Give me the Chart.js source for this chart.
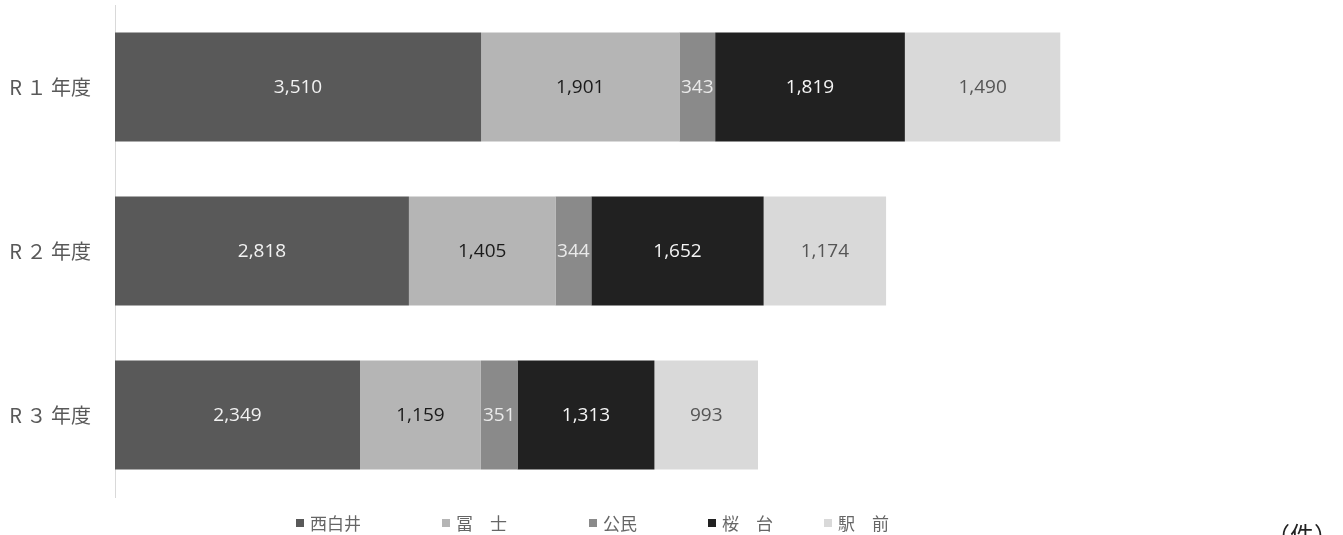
<!DOCTYPE html>
<html>
<head>
<meta charset="utf-8">
<script src="https://cdn.jsdelivr.net/npm/chart.js@4"></script>
<style>
  html, body { margin: 0; padding: 0; background: #fff; overflow: hidden; }
  .wrap { position: relative; width: 1343px; height: 535px; }
  #legend { position: absolute; top: 510px; left: 0; width: 1343px; height: 24px;
    font-family: "Noto Sans CJK JP", sans-serif; font-size: 17px; color: #666; }
  #legend span.item { position: absolute; top: 0; white-space: pre; }
  #legend i { display: inline-block; width: 8px; height: 8px; margin-right: 6px; vertical-align: 3px; }
  #unit { position: absolute; left: 1266px; top: 516px; font-family: "Noto Sans CJK JP", sans-serif;
    font-size: 24px; color: #222; white-space: pre; }
</style>
</head>
<body>
<div class="wrap">
  <canvas id="chart" width="1343" height="535"></canvas>
  <div id="legend"></div>
  <div id="unit">（件）</div>
</div>
<script>
const categories = ["R １ 年度", "R ２ 年度", "R ３ 年度"];
const seriesNames = ["西白井", "冨　士", "公民", "桜　台", "駅　前"];
const nishishiroi = [3510, 2818, 2349];
const fuji = [1901, 1405, 1159];
const koumin = [343, 344, 351];
const sakuradai = [1819, 1652, 1313];
const ekimae = [1490, 1174, 993];

const barColors = ["#595959", "#b5b5b5", "#8a8a8a", "#212121", "#d9d9d9"];
const labelColors = ["#f2f2f2", "#1a1a1a", "#eaeaea", "#f5f5f5", "#555555"];
const legendLeft = [296, 442, 589, 708, 824];

const seriesValues = [nishishiroi, fuji, koumin, sakuradai, ekimae];

// draws the value in the middle of each bar
const barLabels = {
  id: "barLabels",
  afterDatasetsDraw(chart) {
    const ctx = chart.ctx;
    ctx.save();
    ctx.font = "19px 'Open Sans', sans-serif";
    ctx.textAlign = "center";
    ctx.textBaseline = "middle";
    chart.data.datasets.forEach((ds, i) => {
      chart.getDatasetMeta(i).data.forEach((bar, j) => {
        const { x, base, y } = bar.getProps(["x", "base", "y"], true);
        ctx.fillStyle = labelColors[i];
        ctx.fillText(ds.data[j].toLocaleString("en-US"), (x + base) / 2, y + 1);
      });
    });
    ctx.restore();
  },
};

const chart = new Chart(document.getElementById("chart"), {
  type: "bar",
  data: {
    labels: categories,
    datasets: seriesNames.map((name, i) => ({
      label: name,
      data: seriesValues[i],
      backgroundColor: barColors[i],
      barPercentage: 1,
      categoryPercentage: 0.665,
    })),
  },
  options: {
    indexAxis: "y",
    responsive: false,
    animation: false,
    layout: { padding: { top: 5, bottom: 38, right: 185, left: 0 } },
    plugins: { legend: { display: false }, tooltip: { enabled: false } },
    scales: {
      x: { stacked: true, min: 0, max: 10000, display: false },
      y: {
        stacked: true,
        grid: { display: false },
        border: { display: true, color: "#d9d9d9", width: 1 },
        ticks: {
          padding: 16,
          color: "#595959",
          font: { family: "'Noto Sans CJK JP', sans-serif", size: 20 },
        },
        afterFit(scale) {
          scale.width = 115;
          scale.paddingTop = 0;
          scale.paddingBottom = 0;
        },
      },
    },
  },
  plugins: [barLabels],
});

const legend = document.getElementById("legend");
chart.data.datasets.forEach((ds, i) => {
  const item = document.createElement("span");
  item.className = "item";
  item.style.left = legendLeft[i] + "px";
  const box = document.createElement("i");
  box.style.background = ds.backgroundColor;
  item.appendChild(box);
  item.appendChild(document.createTextNode(ds.label));
  legend.appendChild(item);
});
</script>
</body>
</html>
